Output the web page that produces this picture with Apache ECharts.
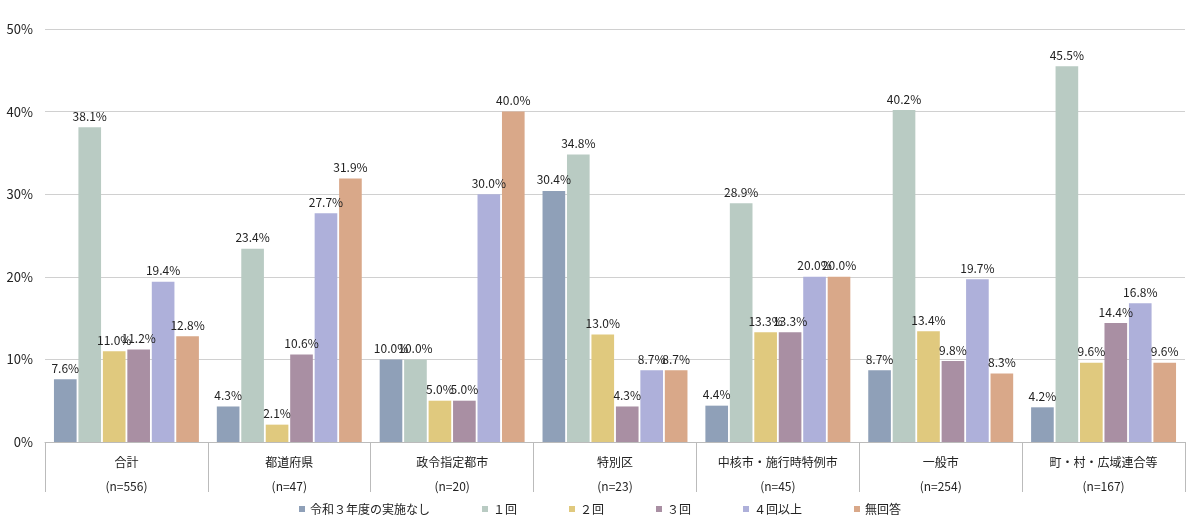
<!DOCTYPE html>
<html><head><meta charset="utf-8">
<script src="https://cdn.jsdelivr.net/npm/echarts@6/dist/echarts.min.js"></script>
<style>html,body{margin:0;background:#fff}#c{width:1200px;height:526px}</style>
</head><body><div id="c"></div>
<script>
const categories=['合計\n\n(n=556)','都道府県\n\n(n=47)','政令指定都市\n\n(n=20)','特別区\n\n(n=23)','中核市・施行時特例市\n\n(n=45)','一般市\n\n(n=254)','町・村・広域連合等\n\n(n=167)'];
const seriesNames=['令和３年度の実施なし','１回','２回','３回','４回以上','無回答'];
const s0=[7.6,4.3,10.0,30.4,4.4,8.7,4.2];
const s1=[38.1,23.4,10.0,34.8,28.9,40.2,45.5];
const s2=[11.0,2.1,5.0,13.0,13.3,13.4,9.6];
const s3=[11.2,10.6,5.0,4.3,13.3,9.8,14.4];
const s4=[19.4,27.7,30.0,8.7,20.0,19.7,16.8];
const s5=[12.8,31.9,40.0,8.7,20.0,8.3,9.6];
const colors=['#8fa0b8','#b9cbc3','#e0c97e','#a98fa3','#aeb0da','#d9a889'];
const font='"Noto Sans CJK JP","Noto Sans",sans-serif';
const data=[s0,s1,s2,s3,s4,s5];
const chart=echarts.init(document.getElementById('c'));
chart.setOption({
 animation:false,
 color:colors,
 textStyle:{fontFamily:font},
 legend:{bottom:6,left:'center',itemWidth:6,itemHeight:6,itemGap:52,icon:'rect',
   textStyle:{fontSize:12,color:'#222',fontFamily:font},data:seriesNames},
 grid:{left:45,right:15,top:29,bottom:84,containLabel:false},
 xAxis:{type:'category',data:categories,
   axisLine:{lineStyle:{color:'#bbb'}},
   axisTick:{show:true,length:50,interval:0,lineStyle:{color:'#bbb'}},
   axisLabel:{fontSize:12,color:'#222',lineHeight:12,margin:14,fontFamily:font}},
 yAxis:{type:'value',min:0,max:50,interval:10,
   axisLabel:{formatter:'{value}%',fontSize:13,color:'#222',margin:12},
   splitLine:{lineStyle:{color:'#d0d0d0'}},axisLine:{show:false}},
 series:data.map((d,i)=>({name:seriesNames[i],type:'bar',data:d,barGap:'8%',barCategoryGap:'11%',
   label:{show:true,position:'top',formatter:p=>p.value.toFixed(1)+'%',fontSize:12,color:'#222',distance:5},
   itemStyle:{color:colors[i]}}))
});
</script></body></html>
